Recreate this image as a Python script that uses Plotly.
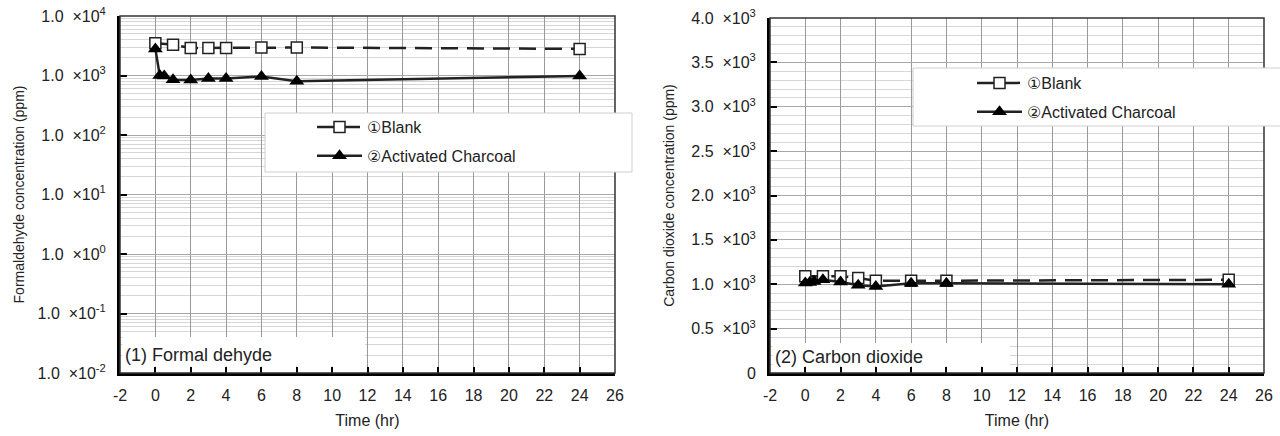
import plotly.graph_objects as go

# ---------------- data ----------------
hcho_blank_t = [0, 1, 2, 3, 4, 6, 8, 24]
hcho_blank = [3500, 3300, 2900, 2900, 2900, 2950, 2950, 2800]
hcho_charcoal_t = [0, 0.25, 0.5, 1, 2, 3, 4, 6, 8, 24]
hcho_charcoal = [2800, 1000, 980, 850, 840, 890, 890, 960, 800, 980]

co2_blank_t = [0, 1, 2, 3, 4, 6, 8, 24]
co2_blank = [1090, 1090, 1090, 1070, 1040, 1040, 1040, 1050]
co2_charcoal_t = [0, 0.25, 0.5, 1, 2, 3, 4, 6, 8, 24]
co2_charcoal = [1015, 1020, 1030, 1050, 1025, 990, 975, 1010, 1010, 1000]

x_ticks = list(range(-2, 27, 2))
x_ticktext = [str(v) for v in x_ticks]
SP = "&nbsp;&nbsp;"
hcho_tickvals = [1e-2, 1e-1, 1e0, 1e1, 1e2, 1e3, 1e4]
hcho_ticktext = ["1.0" + SP + "×10<sup>" + e + "</sup>"
                 for e in ["-2", "-1", "0", "1", "2", "3", "4"]]
co2_tickvals = [0, 500, 1000, 1500, 2000, 2500, 3000, 3500, 4000]
co2_ticktext = ["0"] + [m + SP + "×10<sup>3</sup>"
                        for m in ["0.5", "1.0", "1.5", "2.0", "2.5", "3.0", "3.5", "4.0"]]
label_blank = "①Blank"
label_charcoal = "②Activated Charcoal"

# ---------------- layout helpers ----------------
W, H = 1280, 436
FONT = "Liberation Sans, Arial, DejaVu Sans, sans-serif"
INK = "#222222"


def px_x(p):
    return p / W


def px_y(p):
    return 1 - p / H


L1 = (120, 615)
L2 = (770, 1264)
T1, T2, B = 16, 18, 373

fig = go.Figure()

blank_style = dict(mode="lines+markers",
                   line=dict(color=INK, width=2.5, dash="17px,9px"),
                   marker=dict(symbol="square", size=11, color="white",
                               line=dict(color=INK, width=1.5)))
char_style = dict(mode="lines+markers",
                  line=dict(color=INK, width=2.5),
                  marker=dict(symbol="triangle-up", size=13, color="black",
                              line=dict(color="black", width=0)))

fig.add_trace(go.Scatter(x=hcho_blank_t, y=hcho_blank, name=label_blank,
                         xaxis="x", yaxis="y", legend="legend", legendgroup="a",
                         **blank_style))
fig.add_trace(go.Scatter(x=hcho_charcoal_t, y=hcho_charcoal, name=label_charcoal,
                         xaxis="x", yaxis="y", legend="legend", legendgroup="b",
                         **char_style))
fig.add_trace(go.Scatter(x=co2_blank_t, y=co2_blank, name=label_blank,
                         xaxis="x2", yaxis="y2", legend="legend2", legendgroup="c",
                         **blank_style))
fig.add_trace(go.Scatter(x=co2_charcoal_t, y=co2_charcoal, name=label_charcoal,
                         xaxis="x2", yaxis="y2", legend="legend2", legendgroup="d",
                         **char_style))

xcommon = dict(range=[-2, 26], tickmode="array", tickvals=x_ticks, ticktext=x_ticktext,
               automargin=False,
               showgrid=True, gridcolor="#999999", gridwidth=1, zeroline=False,
               showline=True, linecolor="black", linewidth=3,
               ticks="inside", ticklen=6, tickwidth=2, tickcolor="black",
               ticklabelstandoff=6,
               tickfont=dict(family=FONT, size=16, color=INK),
               title=dict(text="Time (hr)", font=dict(family=FONT, size=16, color=INK),
                          standoff=12))
ycommon = dict(showgrid=True, gridcolor="#a8a8a8", gridwidth=1, zeroline=False,
               automargin=False,
               showline=True, linecolor="black", linewidth=3,
               ticks="inside", ticklen=7, tickwidth=2, tickcolor="black",
               ticklabelstandoff=8,
               tickfont=dict(family=FONT, size=16, color=INK))

hcho_minor = [k * 10.0 ** e for e in range(-2, 4) for k in range(2, 10)]

fig.update_layout(
    width=W, height=H,
    margin=dict(l=0, r=0, t=0, b=0, autoexpand=False),
    paper_bgcolor="white", plot_bgcolor="white",
    font=dict(family=FONT, color=INK),
    xaxis=dict(domain=[px_x(L1[0]), px_x(L1[1])], anchor="y", **xcommon),
    yaxis=dict(domain=[px_y(B), px_y(T1)], anchor="x", type="log", range=[-2, 4],
               tickmode="array", tickvals=hcho_tickvals, ticktext=hcho_ticktext,
               minor=dict(tickmode="array", tickvals=hcho_minor, showgrid=True,
                          gridcolor="#d6d6d6", gridwidth=1, ticks=""),
               title=dict(text="Formaldehyde concentration (ppm)",
                          font=dict(family=FONT, size=14, color=INK), standoff=10),
               **ycommon),
    xaxis2=dict(domain=[px_x(L2[0]), px_x(L2[1])], anchor="y2", **xcommon),
    yaxis2=dict(domain=[px_y(B), px_y(T2)], anchor="x2", range=[0, 4000],
                tickmode="array", tickvals=co2_tickvals, ticktext=co2_ticktext,
                minor=dict(dtick=100, showgrid=True, gridcolor="#d6d6d6",
                           gridwidth=1, ticks=""),
                title=dict(text="Carbon dioxide concentration (ppm)",
                           font=dict(family=FONT, size=14, color=INK), standoff=14),
                **ycommon),
    legend=dict(x=px_x(312), y=px_y(110), xanchor="left", yanchor="top",
                bgcolor="rgba(0,0,0,0)", borderwidth=0, tracegroupgap=5,
                itemwidth=45, font=dict(family=FONT, size=16, color=INK)),
    legend2=dict(x=px_x(972), y=px_y(66), xanchor="left", yanchor="top",
                 bgcolor="rgba(0,0,0,0)", borderwidth=0, tracegroupgap=5,
                 itemwidth=45, font=dict(family=FONT, size=16, color=INK)),
    showlegend=True,
)

shapes = []
# thin top/right frame
for (l, r), t in ((L1, T1), (L2, T2)):
    shapes.append(dict(type="rect", xref="paper", yref="paper",
                       x0=px_x(l), x1=px_x(r), y0=px_y(B), y1=px_y(t),
                       line=dict(color="#333333", width=1.5), layer="above"))
# legend boxes
shapes.append(dict(type="rect", xref="paper", yref="paper",
                   x0=px_x(265), x1=px_x(632), y0=px_y(172), y1=px_y(113),
                   fillcolor="white", line=dict(color="#cfcfcf", width=1), layer="above"))
shapes.append(dict(type="rect", xref="paper", yref="paper",
                   x0=px_x(913), x1=px_x(1290), y0=px_y(126), y1=px_y(68),
                   fillcolor="white", line=dict(color="#cfcfcf", width=1), layer="above"))
# panel label boxes
shapes.append(dict(type="rect", xref="paper", yref="paper",
                   x0=px_x(122.5), x1=px_x(365), y0=px_y(366.5), y1=px_y(337),
                   fillcolor="white", line=dict(width=0), layer="above"))
shapes.append(dict(type="rect", xref="paper", yref="paper",
                   x0=px_x(772.5), x1=px_x(1010), y0=px_y(366.5), y1=px_y(343),
                   fillcolor="white", line=dict(width=0), layer="above"))
fig.update_layout(shapes=shapes)

fig.add_annotation(text="(1) Formal dehyde", xref="paper", yref="paper",
                   x=px_x(123), y=px_y(355), xanchor="left", yanchor="middle",
                   showarrow=False, font=dict(family=FONT, size=18, color=INK))
fig.add_annotation(text="(2) Carbon dioxide", xref="paper", yref="paper",
                   x=px_x(773), y=px_y(357), xanchor="left", yanchor="middle",
                   showarrow=False, font=dict(family=FONT, size=18, color=INK))

fig.write_html("out.html",
               config={"displayModeBar": False},
               post_script="document.body.style.margin='0px';"
                           "document.body.style.padding='0px';"
                           "document.body.style.overflow='hidden';")
